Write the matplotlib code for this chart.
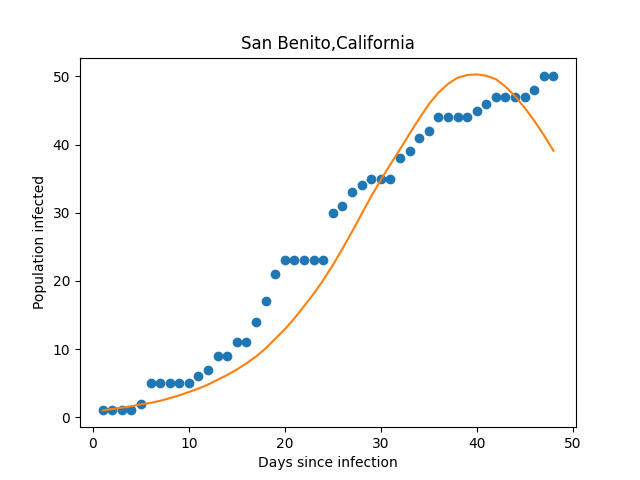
import matplotlib
matplotlib.use('Agg')
import matplotlib.pyplot as plt

days = list(range(1, 49))
infected = [1, 1, 1, 1, 2, 5, 5, 5, 5, 5,
            6, 7, 9, 9, 11, 11, 14, 17, 21, 23,
            23, 23, 23, 23, 30, 31, 33, 34, 35, 35,
            35, 38, 39, 41, 42, 44, 44, 44, 44, 45,
            46, 47, 47, 47, 47, 48, 50, 50]
# fitted curve
fit = [1.0, 1.2, 1.4, 1.6, 1.9, 2.1, 2.4, 2.8, 3.2, 3.7,
       4.2, 4.8, 5.5, 6.2, 7.0, 7.9, 8.9, 10.1, 11.5, 12.9,
       14.5, 16.3, 18.1, 20.1, 22.3, 24.7, 27.2, 29.8, 32.4, 34.8,
       37.1, 39.3, 41.6, 43.8, 45.9, 47.6, 48.9, 49.8, 50.2, 50.3,
       50.1, 49.6, 48.5, 47.1, 45.4, 43.5, 41.4, 39.1]

fig, ax = plt.subplots(figsize=(6.4, 4.8), dpi=100)
ax.scatter(days, infected)
ax.plot(days, fit, color='C1')
ax.set_title('San Benito,California')
ax.set_xlabel('Days since infection')
ax.set_ylabel('Population infected')
plt.savefig('out.png')
